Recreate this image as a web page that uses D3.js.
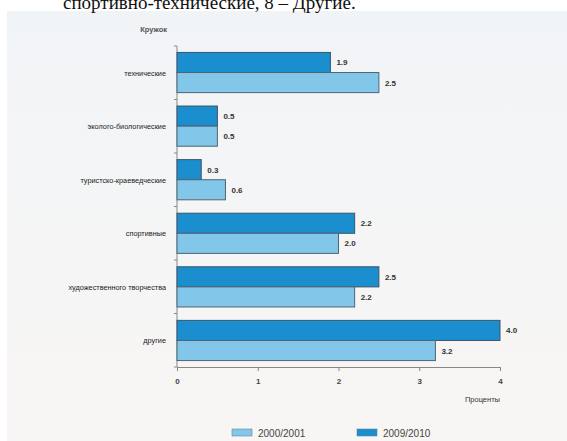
<!DOCTYPE html>
<html><head><meta charset="utf-8">
<script src="https://cdn.jsdelivr.net/npm/d3@7"></script>
<style>body{margin:0;background:#fff}svg{display:block}</style>
</head><body>
<svg id="c" width="567" height="441"></svg>
<script>
const categories = ["технические","эколого-биологические","туристско-краеведческие","спортивные","художественного творчества","другие"];
const values2009 = [1.9, 0.5, 0.3, 2.2, 2.5, 4.0];
const values2000 = [2.5, 0.5, 0.6, 2.0, 2.2, 3.2];
const seriesNames = ["2000/2001","2009/2010"];
const xTicks = [0,1,2,3,4];
const labels2009 = ["1.9","0.5","0.3","2.2","2.5","4.0"];
const labels2000 = ["2.5","0.5","0.6","2.0","2.2","3.2"];

const svg = d3.select("#c");
const dark = "#1b8ed0", light = "#82c6ea";

// background
const bg = svg.append("defs").append("linearGradient").attr("id","bg").attr("x1",0).attr("y1",0).attr("x2",0).attr("y2",1);
bg.append("stop").attr("offset","0").attr("stop-color","#f1f4f7");
bg.append("stop").attr("offset","1").attr("stop-color","#f8f6f4");
svg.append("rect").attr("x",7).attr("y",11).attr("width",560).attr("height",430).attr("fill","url(#bg)");
svg.append("text").attr("x",63).attr("y",9).attr("font-family","Liberation Serif").attr("font-size",19).attr("fill","#111").text("спортивно-технические, 8 – Другие.");

const x = d3.scaleLinear().domain([0,4]).range([177,500]);
const y = d3.scaleBand().domain(categories).range([46,367]).paddingInner(0.25).paddingOuter(0.12);
const sub = d3.scaleBand().domain(["b","a"]).range([0,y.bandwidth()]);

// axes
const yAxis = svg.append("g").attr("transform","translate(177,0)");
yAxis.append("line").attr("x1",0).attr("x2",0).attr("y1",46).attr("y2",367).attr("stroke","#888");
const bounds = d3.range(categories.length+1).map(i => 46 + i*(321/categories.length));
yAxis.selectAll(".tk").data(bounds).join("line").attr("x1",-3).attr("x2",0).attr("y1",d=>d).attr("y2",d=>d).attr("stroke","#888");

const xAxis = d3.axisBottom(x).tickValues(xTicks).tickFormat(d3.format("d")).tickSize(4).tickPadding(7);
const gx = svg.append("g").attr("transform","translate(0,367)").call(xAxis);
gx.select(".domain").attr("stroke","#888");
gx.selectAll(".tick line").attr("stroke","#888");
gx.selectAll("text").attr("font-family","Liberation Sans").attr("font-size",8).attr("font-weight","bold").attr("fill","#444");

svg.append("text").attr("x",500).attr("y",402).attr("text-anchor","end").attr("font-family","Liberation Sans").attr("font-size",7.5).attr("fill","#333").text("Проценты");
svg.append("text").attr("x",167).attr("y",32).attr("text-anchor","end").attr("font-family","Liberation Sans").attr("font-size",7.5).attr("font-weight","bold").attr("fill","#555").text("Кружок");

// category labels
svg.selectAll(".cat").data(categories).join("text")
  .attr("x",166).attr("y",d=>y(d)+y.bandwidth()/2+3)
  .attr("text-anchor","end").attr("font-family","Liberation Sans").attr("font-size",7.3).attr("fill","#222").text(d=>d);

// bars
const g = svg.append("g");
g.selectAll(".b9").data(categories).join("rect")
  .attr("x",x(0)).attr("y",d=>y(d)+sub("b")).attr("width",(d,i)=>x(values2009[i])-x(0)).attr("height",sub.bandwidth())
  .attr("fill",dark).attr("stroke","#3d5566").attr("stroke-width",1);
g.selectAll(".b0").data(categories).join("rect")
  .attr("x",x(0)).attr("y",d=>y(d)+sub("a")).attr("width",(d,i)=>x(values2000[i])-x(0)).attr("height",sub.bandwidth())
  .attr("fill",light).attr("stroke","#4f6572").attr("stroke-width",1);

g.selectAll(".l9").data(categories).join("text")
  .attr("x",(d,i)=>x(values2009[i])+6).attr("y",d=>y(d)+sub("b")+sub.bandwidth()/2+3)
  .attr("font-family","Liberation Sans").attr("font-size",8).attr("font-weight","bold").attr("fill","#333").text((d,i)=>labels2009[i]);
g.selectAll(".l0").data(categories).join("text")
  .attr("x",(d,i)=>x(values2000[i])+6).attr("y",d=>y(d)+sub("a")+sub.bandwidth()/2+3)
  .attr("font-family","Liberation Sans").attr("font-size",8).attr("font-weight","bold").attr("fill","#333").text((d,i)=>labels2000[i]);

// legend
const leg = [{n:seriesNames[0],c:light,x:232},{n:seriesNames[1],c:dark,x:357}];
const lg = svg.selectAll(".lg").data(leg).join("g").attr("transform",d=>`translate(${d.x},429)`);
lg.append("rect").attr("width",20).attr("height",7).attr("fill",d=>d.c).attr("stroke","#6a8494").attr("stroke-width",0.6);
lg.append("text").attr("x",26).attr("y",7.5).attr("font-family","Liberation Sans").attr("font-size",10).attr("fill","#444").text(d=>d.n);
</script>
</body></html>
